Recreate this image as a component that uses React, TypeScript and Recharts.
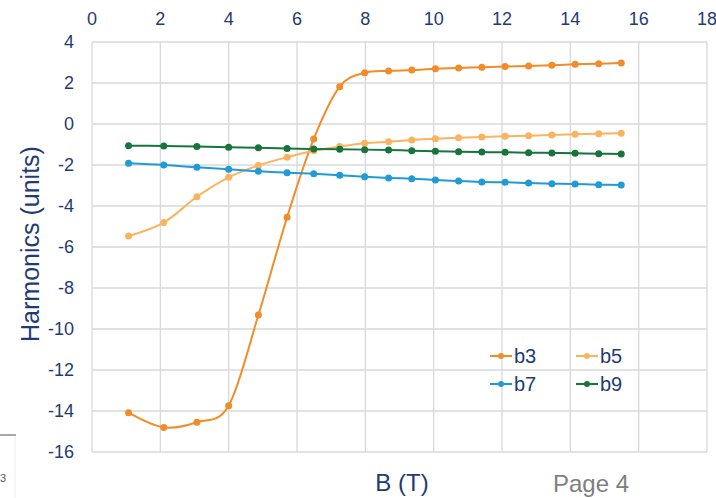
import React from 'react';
import { LineChart, Line, XAxis, YAxis, CartesianGrid } from 'recharts';

// Field values (T)
const fieldB = [1.07, 2.1, 3.07, 4.0, 4.87, 5.71, 6.49, 7.25, 7.98, 8.68, 9.36, 10.05, 10.73, 11.41, 12.09, 12.78, 13.46, 14.14, 14.83, 15.49];
const b3 = [-14.08, -14.8, -14.55, -13.74, -9.32, -4.55, -0.73, 1.82, 2.5, 2.59, 2.63, 2.7, 2.73, 2.77, 2.8, 2.83, 2.86, 2.91, 2.94, 2.98];
const b5 = [-5.46, -4.81, -3.55, -2.6, -2.02, -1.62, -1.31, -1.1, -0.94, -0.86, -0.78, -0.72, -0.67, -0.63, -0.6, -0.57, -0.54, -0.5, -0.47, -0.45];
const b7 = [-1.92, -2.0, -2.11, -2.21, -2.31, -2.38, -2.43, -2.5, -2.57, -2.63, -2.67, -2.73, -2.78, -2.83, -2.84, -2.88, -2.91, -2.93, -2.96, -2.98];
const b9 = [-1.06, -1.07, -1.1, -1.14, -1.16, -1.19, -1.22, -1.23, -1.25, -1.27, -1.3, -1.33, -1.35, -1.37, -1.38, -1.4, -1.41, -1.43, -1.45, -1.46];

const xTicks = [0, 2, 4, 6, 8, 10, 12, 14, 16, 18];
const yTicks = [-16, -14, -12, -10, -8, -6, -4, -2, 0, 2, 4];

const seriesNames = ['b3', 'b5', 'b7', 'b9'];
const seriesColors = ['#f28c28', '#fbb35e', '#1f9bd6', '#17743d'];

const data = fieldB.map((b, i) => ({ b, b3: b3[i], b5: b5[i], b7: b7[i], b9: b9[i] }));

const NAVY = '#1f3b73';

// Excel-like smoothing (cardinal spline, tension 0)
const excelSmooth: any = (context: any) => {
  const k = 1 / 6;
  let x0 = NaN, y0 = NaN, x1 = NaN, y1 = NaN, x2 = NaN, y2 = NaN;
  let pt = 0;
  let line: number = NaN;
  const seg = (x: number, y: number) =>
    context.bezierCurveTo(
      x1 + k * (x2 - x0), y1 + k * (y2 - y0),
      x2 + k * (x1 - x), y2 + k * (y1 - y),
      x2, y2
    );
  return {
    areaStart() { line = 0; },
    areaEnd() { line = NaN; },
    lineStart() { x0 = x1 = x2 = y0 = y1 = y2 = NaN; pt = 0; },
    lineEnd() {
      if (pt === 2) context.lineTo(x2, y2);
      else if (pt === 3) seg(x1, y1);
      if (line || (line !== 0 && pt === 1)) context.closePath();
      line = 1 - line;
    },
    point(x: number, y: number) {
      x = +x; y = +y;
      if (pt === 0) { pt = 1; if (line) context.lineTo(x, y); else context.moveTo(x, y); }
      else if (pt === 1) { pt = 2; x1 = x; y1 = y; }
      else { pt = 3; seg(x, y); }
      x0 = x1; x1 = x2; x2 = x;
      y0 = y1; y1 = y2; y2 = y;
    },
  };
};

const legendPos = [
  { x: 490, y: 356 },
  { x: 576, y: 356 },
  { x: 490, y: 384 },
  { x: 576, y: 384 },
];

export default function App() {
  return (
    <div style={{ position: 'absolute', left: 0, top: 0, width: 716, height: 498, background: '#fff', fontFamily: '"Liberation Sans", Arial, sans-serif', overflow: 'hidden' }}>
      <LineChart width={716} height={498} data={data} margin={{ top: 0, right: 9, bottom: 46, left: 0 }}>
        <CartesianGrid stroke="#d9d9d9" strokeWidth={1.3} horizontalValues={yTicks} verticalValues={xTicks} />
        <XAxis
          dataKey="b"
          type="number"
          orientation="top"
          domain={[0, 18]}
          ticks={xTicks}
          height={42}
          axisLine={false}
          tickLine={false}
          tickSize={0}
          tickMargin={17}
          tick={{ fill: NAVY, fontSize: 18 }}
          interval={0}
        />
        <YAxis
          type="number"
          domain={[-16, 4]}
          ticks={yTicks}
          width={92}
          axisLine={false}
          tickLine={false}
          tickSize={0}
          tickMargin={18}
          tick={{ fill: NAVY, fontSize: 18 }}
          interval={0}
        />
        {seriesNames.map((name, i) => (
          <Line
            key={name}
            dataKey={name}
            type={excelSmooth}
            stroke={seriesColors[i]}
            strokeWidth={2}
            dot={{ r: 3.5, fill: seriesColors[i], stroke: seriesColors[i], strokeWidth: 0 }}
            activeDot={false}
            isAnimationActive={false}
          />
        ))}
      </LineChart>
      <svg width={716} height={498} style={{ position: 'absolute', left: 0, top: 0, pointerEvents: 'none' }}>
        <text x={30} y={244} transform="rotate(-90 30 244)" textAnchor="middle" dominantBaseline="central" fill={NAVY} fontSize={25}>Harmonics (units)</text>
        <text x={402} y={491} textAnchor="middle" fill={NAVY} fontSize={24}>B (T)</text>
        <text x={553} y={492} fill="#7f7f7f" fontSize={24}>Page 4</text>
        <line x1={0} y1={435} x2={16} y2={435} stroke="#555" strokeWidth={1} />
        <line x1={15} y1={436} x2={15} y2={498} stroke="#eee" strokeWidth={1} />
        <text x={0} y={482} fill="#555" fontSize={11}>3</text>
        {seriesNames.map((name, i) => (
          <g key={name}>
            <line x1={legendPos[i].x} y1={legendPos[i].y} x2={legendPos[i].x + 22} y2={legendPos[i].y} stroke={seriesColors[i]} strokeWidth={2} />
            <circle cx={legendPos[i].x + 11} cy={legendPos[i].y} r={3} fill={seriesColors[i]} />
            <text x={legendPos[i].x + 24} y={legendPos[i].y} dominantBaseline="central" fill={NAVY} fontSize={20}>{name}</text>
          </g>
        ))}
      </svg>
    </div>
  );
}
